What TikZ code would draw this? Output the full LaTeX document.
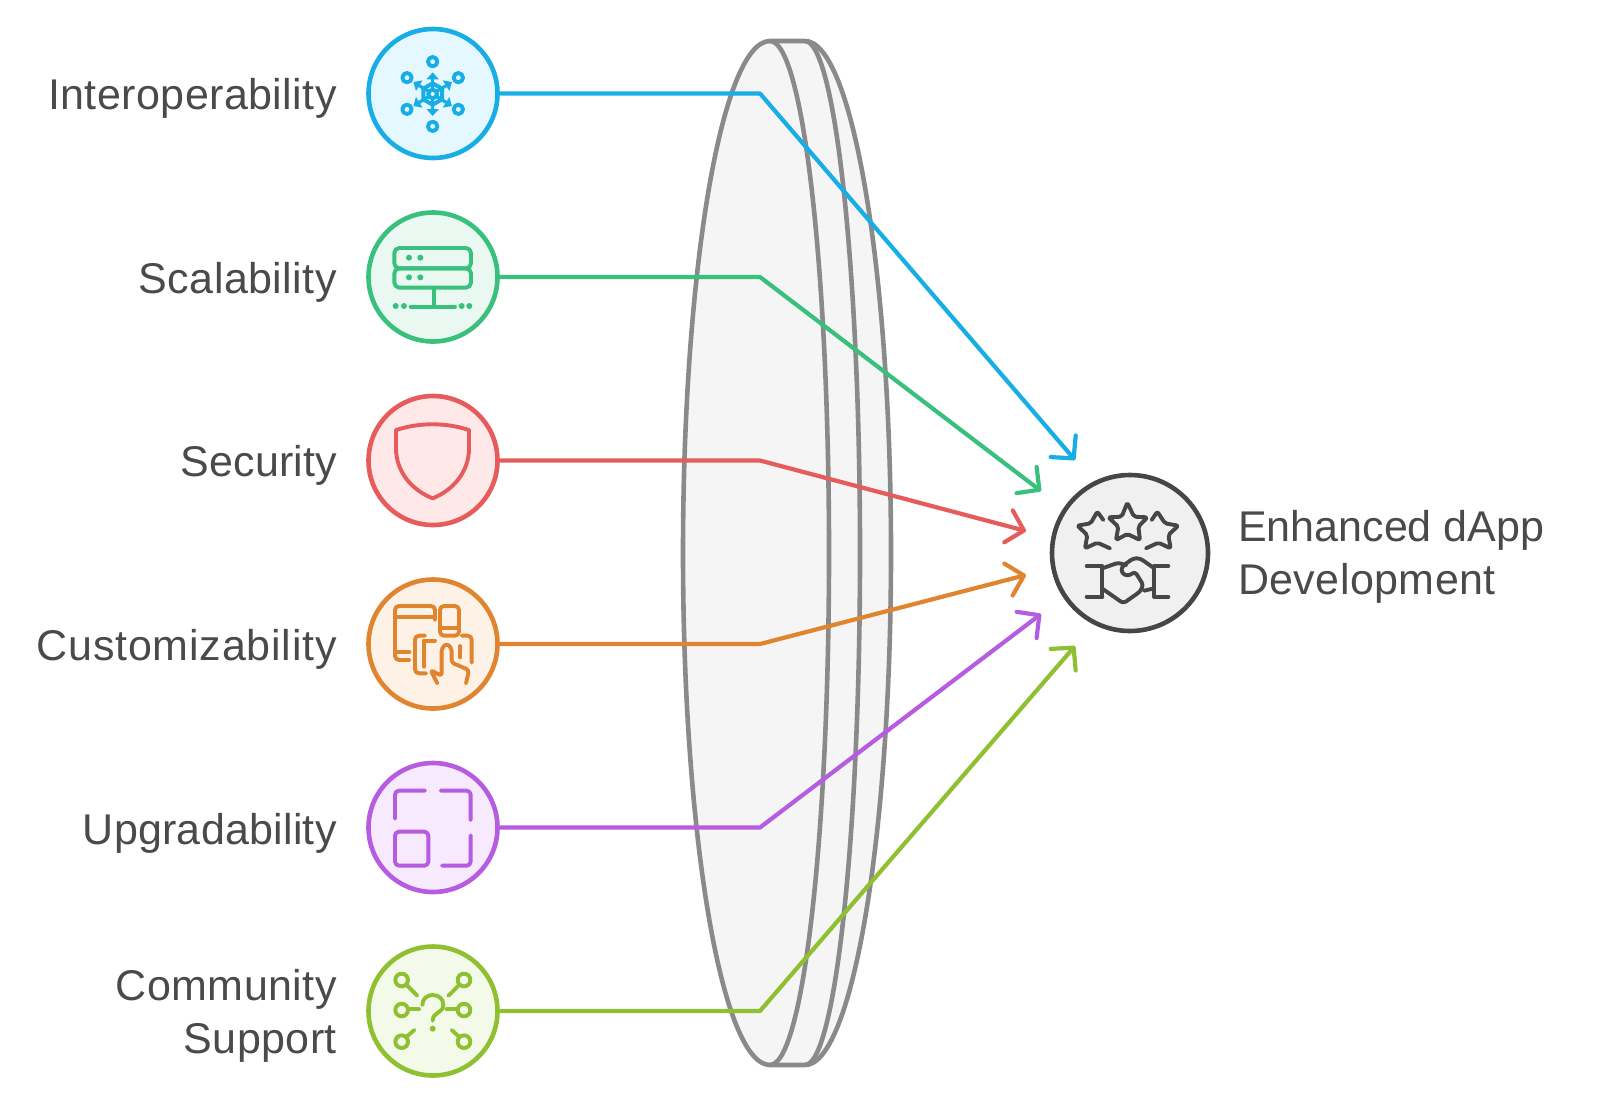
\documentclass[tikz,border=0pt]{standalone}
\usepackage{fontspec}
\setmainfont{Liberation Sans}[LetterSpace=1]
\usetikzlibrary{arrows.meta}
\definecolor{cBlue}{HTML}{17AEE6}\definecolor{fBlue}{HTML}{E5F7FF}
\definecolor{cGreen}{HTML}{38C07C}\definecolor{fGreen}{HTML}{E9F9F1}
\definecolor{cRed}{HTML}{E65C5C}\definecolor{fRed}{HTML}{FFE9E8}
\definecolor{cOrange}{HTML}{E08430}\definecolor{fOrange}{HTML}{FEF1E6}
\definecolor{cPurple}{HTML}{B65CE0}\definecolor{fPurple}{HTML}{F7E9FE}
\definecolor{cLime}{HTML}{8FC031}\definecolor{fLime}{HTML}{F3FAEA}
\definecolor{cHub}{HTML}{464646}\definecolor{fHub}{HTML}{F0F0F0}
\definecolor{cLens}{HTML}{8A8A8A}\definecolor{fLens}{HTML}{F5F5F5}
\definecolor{cText}{HTML}{4A4A4A}
\tikzset{
  disc/.style={circle,draw=#1,line width=4.6pt,minimum size=129pt,inner sep=0pt},
  hubdisc/.style={circle,draw=cHub,fill=fHub,line width=4.6pt,minimum size=156pt,inner sep=0pt},
  conn/.style={draw=#1,line width=4.2pt,line cap=round,line join=round,
    -{Straight Barb[length=16pt,width=33pt,round,line width=4.2pt]}},
  lbl/.style={text=cText,font=\fontsize{43}{52.5}\selectfont,inner sep=0pt},
  ico/.style={draw=#1,line width=3.9pt,line cap=round,line join=round},
  lensline/.style={draw=cLens,line width=4.6pt,line join=round},
}
\begin{document}
\begin{tikzpicture}[x=1pt,y=-1pt]
\useasboundingbox (0,0) rectangle (1600,1106);
% lens
\fill[fLens] (770,41) .. controls (722,41) and (683,270) .. (683,553)
   .. controls (683,836) and (722,1065) .. (770,1065) -- (805,1065)
   .. controls (852,1065) and (891,836) .. (891,553)
   .. controls (891,270) and (852,41) .. (805,41) -- cycle;
\draw[lensline] (805,41) .. controls (852,41) and (891,270) .. (891,553)
   .. controls (891,836) and (852,1065) .. (805,1065);
\draw[lensline] (805,41) .. controls (835,41) and (860,270) .. (860,553)
   .. controls (860,836) and (835,1065) .. (805,1065);
\draw[lensline] (805,41) -- (770,41)
   .. controls (722,41) and (683,270) .. (683,553)
   .. controls (683,836) and (722,1065) .. (770,1065) -- (805,1065);
\draw[lensline] (770,41) .. controls (803,41) and (829,270) .. (829,553)
   .. controls (829,836) and (803,1065) .. (770,1065);
% discs
\node[disc=cBlue,fill=fBlue] (nA) at (433,93.5) {};
\node[disc=cGreen,fill=fGreen] (nB) at (433,277) {};
\node[disc=cRed,fill=fRed] (nC) at (433,460.5) {};
\node[disc=cOrange,fill=fOrange] (nD) at (433,644) {};
\node[disc=cPurple,fill=fPurple] (nE) at (433,827.5) {};
\node[disc=cLime,fill=fLime] (nF) at (433,1011) {};
\node[hubdisc] (hub) at (1130,553) {};
% connectors
\coordinate (bA) at (760,93.5); \coordinate (tA) at (1075,460);
\coordinate (bB) at (760,277); \coordinate (tB) at (1041,491);
\coordinate (bC) at (760,460.5); \coordinate (tC) at (1026,531);
\coordinate (bD) at (760,644); \coordinate (tD) at (1026,575);
\coordinate (bE) at (760,827.5); \coordinate (tE) at (1041,614);
\coordinate (bF) at (760,1011); \coordinate (tF) at (1075,646);
\draw[conn=cBlue] (nA) ++(68,0) -- (bA) -- (tA);
\draw[conn=cGreen] (nB) ++(68,0) -- (bB) -- (tB);
\draw[conn=cRed] (nC) ++(68,0) -- (bC) -- (tC);
\draw[conn=cOrange] (nD) ++(68,0) -- (bD) -- (tD);
\draw[conn=cPurple] (nE) ++(68,0) -- (bE) -- (tE);
\draw[conn=cLime] (nF) ++(68,0) -- (bF) -- (tF);
% labels
\node[lbl,anchor=east] (lA) at (337,98) {Interoperability};
\node[lbl,anchor=east] (lB) at (337,282) {Scalability};
\node[lbl,anchor=east] (lC) at (337,465) {\addfontfeature{LetterSpace=0.3}Security};
\node[lbl,anchor=east] (lD) at (337,649) {\addfontfeature{LetterSpace=1.8}Customizability};
\node[lbl,anchor=east] (lE) at (337,833) {\addfontfeature{LetterSpace=0.6}Upgradability};
\node[lbl,anchor=east,align=right] (lF) at (337,1016) {Community\\Support};
\node[lbl,anchor=west,align=left] (lG) at (1238,557) {\addfontfeature{LetterSpace=0}Enhanced dApp\\Development};
% icon: interoperability
\begin{scope}[shift={(360,20)},scale=1/3]
\foreach \p in {(218,125),(218,319),(141,173),(295,173),(141,268),(295,268)}
  \draw[ico=cBlue] \p circle[radius=14pt];
\foreach \q in {(218,157),(218,288),(276,186),(160,186),(276,258),(160,258)}
  \draw[ico=cBlue,line width=3.2pt,line cap=butt,-{Triangle[length=7pt,width=12pt]}] (218,222) -- \q;
\draw[cBlue,line width=4pt,rounded corners=1pt] (218,190) -- (246,206) -- (246,238) -- (218,254) -- (190,238) -- (190,206) -- cycle;
\fill[fBlue,draw=cBlue,line width=4pt] (218,222) circle[radius=13pt];
\end{scope}
% icon: scalability
\begin{scope}[shift={(360,20)},scale=1/3]
\draw[ico=cGreen,rounded corners=5pt] (103,684) rectangle (333,745);
\draw[ico=cGreen,rounded corners=5pt] (103,745) rectangle (333,803);
\draw[ico=cGreen] (222,803) -- (222,860);
\draw[ico=cGreen] (152,860) -- (285,860);
\foreach \p in {(147,713),(181,713),(147,772),(181,772),(107,858),(132,858),(305,858),(328,858)}
  \fill[cGreen] \p circle[radius=9pt];
\end{scope}
% icon: security
\begin{scope}[shift={(360,385)},scale=1/3]
\draw[ico=cRed] (108,135) .. controls (180,112) and (255,112) .. (327,135)
  -- (327,190) .. controls (327,260) and (280,315) .. (218,340)
  .. controls (155,315) and (108,260) .. (108,190) -- cycle;
\end{scope}
% icon: customizability
\begin{scope}[shift={(360,570)},scale=1/3]
\draw[ico=cOrange,rounded corners=4pt] (225,150) -- (225,108) -- (105,108) -- (105,270) -- (148,270);
\draw[ico=cOrange] (105,142) -- (225,142);
\draw[ico=cOrange] (105,245) -- (148,245);
\draw[ico=cOrange,rounded corners=4pt] (240,108) rectangle (297,197);
\draw[ico=cOrange] (240,175) -- (297,175);
\draw[ico=cOrange,rounded corners=4pt] (195,197) -- (165,197) -- (165,310) -- (198,310);
\draw[ico=cOrange] (193,212) -- (193,290);
\draw[ico=cOrange] (193,212) -- (225,212);
\draw[ico=cOrange,rounded corners=4pt] (305,197) -- (335,197) -- (335,278);
\draw[ico=cOrange] (300,228) -- (300,262);
\draw[ico=cOrange,rounded corners=3pt] (232,340) -- (212,300) -- (245,318) -- (245,235) -- (260,220) -- (275,235) -- (275,278) -- (327,300) -- (318,340);
\end{scope}
% icon: upgradability
\begin{scope}[shift={(360,750)},scale=1/3]
\draw[ico=cPurple,rounded corners=4pt] (105,206) -- (105,122) -- (195,122);
\draw[ico=cPurple,rounded corners=4pt] (242,122) -- (332,122) -- (332,210);
\draw[ico=cPurple,rounded corners=4pt] (332,256) -- (332,347) -- (246,347);
\draw[ico=cPurple,rounded corners=4pt] (105,245) rectangle (205,347);
\end{scope}
% icon: community support
\begin{scope}[shift={(360,930)},scale=1/3]
\foreach \p in {(125,150),(125,240),(125,335),(312,150),(312,240),(312,335)}
  \draw[ico=cLime] \p circle[radius=19pt];
\draw[ico=cLime] (140,165) -- (172,197);
\draw[ico=cLime] (144,238) -- (177,238);
\draw[ico=cLime] (140,320) -- (163,300);
\draw[ico=cLime] (297,165) -- (265,197);
\draw[ico=cLime] (293,238) -- (260,238);
\draw[ico=cLime] (297,320) -- (275,300);
\draw[ico=cLime] (187,225) .. controls (187,185) and (250,185) .. (250,225)
  .. controls (250,250) and (218,245) .. (218,272);
\fill[cLime] (218,296) circle[radius=9pt];
\end{scope}
% icon: hub
\begin{scope}[shift={(1040,460)},scale=1/3]
\draw[ico=cHub,rounded corners=2pt] (262,128) -- (282,170) -- (322,172) -- (295,200) -- (300,240) -- (262,222) -- (228,240) -- (235,200) -- (205,172) -- (245,170) -- cycle;
\draw[ico=cHub,rounded corners=2pt] (210,265) -- (172,248) -- (135,265) -- (142,225) -- (112,197) -- (152,190) -- (172,155) -- (190,180);
\draw[ico=cHub,rounded corners=2pt] (318,265) -- (355,248) -- (392,265) -- (385,225) -- (415,197) -- (375,190) -- (352,155) -- (335,180);
\draw[ico=cHub] (140,318) -- (187,318) -- (187,410);
\draw[ico=cHub] (140,410) -- (187,410);
\draw[ico=cHub] (385,318) -- (343,318) -- (343,410) -- (385,410);
\draw[ico=cHub,rounded corners=3pt] (187,325) -- (235,308) -- (258,316);
\draw[ico=cHub,rounded corners=3pt] (343,325) -- (300,295) -- (280,295) -- (245,320) -- (245,340) -- (265,348) -- (285,335) -- (310,375) -- (300,395) -- (250,430) -- (190,388);
\draw[ico=cHub] (312,392) -- (343,385);
\end{scope}
\end{tikzpicture}
\end{document}
